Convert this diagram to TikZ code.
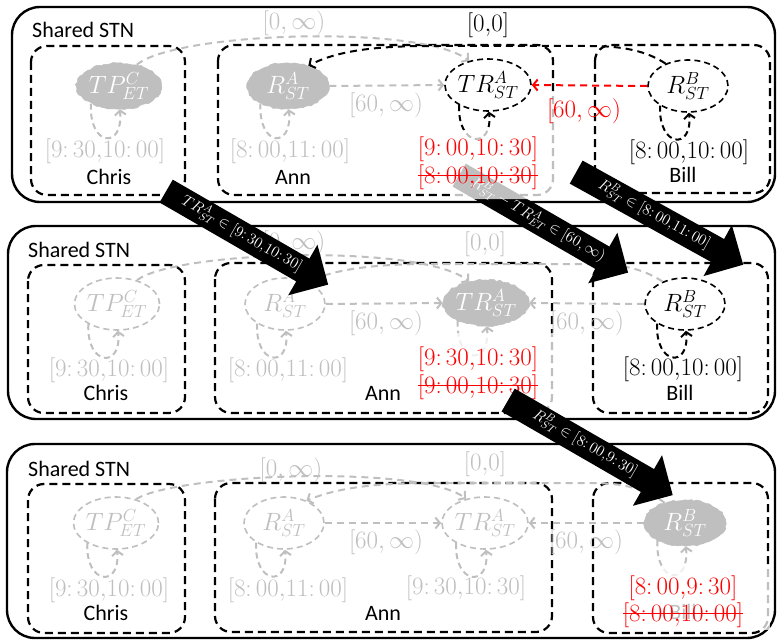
\RequirePackage{fix-cm}
\documentclass[tikz,border=0pt]{standalone}
\usepackage{fontspec}
\newfontfamily\calib{Carlito}
\usetikzlibrary{shapes.geometric,shapes.arrows,arrows.meta,decorations.pathmorphing}
\definecolor{stngray}{RGB}{191,191,191}
\definecolor{stnred}{RGB}{255,0,0}
\begin{document}
\pgfmathsetseed{7}
\begin{tikzpicture}[x=1pt,y=-1pt,
  panel/.style={line width=2.4pt, rounded corners=28pt},
  agentbox/.style={line width=2.2pt, dash pattern=on 8pt off 5pt, rounded corners=16pt},
  stnedge/.style={line width=2pt, dash pattern=on 7pt off 5pt, -{Straight Barb[length=4.5pt,width=11pt]}},
  selfloop/.style={stnedge, dash pattern=on 6pt off 4pt},
  evt/.style={ellipse, line width=1.6pt, dash pattern=on 6pt off 4pt, fill=white,
    minimum width=80pt, minimum height=52pt, inner sep=0pt, font=\fontsize{25}{25}\selectfont},
  blob/.style={ellipse, fill=stngray, draw=stngray, line width=0.6pt, text=white,
    minimum width=82pt, minimum height=46pt, inner sep=0pt, font=\fontsize{25}{25}\selectfont,
    decorate, decoration={random steps, segment length=3pt, amplitude=0.9pt}},
  ival/.style={inner sep=0pt, font=\fontsize{25}{25}\selectfont},
  agent/.style={inner sep=0pt, font=\calib\fontsize{22}{22}\selectfont},
  strike/.style={stnred, line width=1.5pt},
  veil/.style={fill=white, fill opacity=0.75},
  bigarrow/.style={single arrow, fill=black, text=white, single arrow head extend=16pt,
    text height=11pt, text depth=4pt, inner ysep=5.5pt, inner xsep=2pt,
    font=\fontsize{15.5}{15.5}\selectfont, anchor=tail}
]
\useasboundingbox (0,0) rectangle (777,642);

% ---------------- first STN ----------------
\draw[panel] (12,7) rectangle (775,202);
\node[agent, anchor=west] (stn1) at (32,30) {Shared STN};
\draw[agentbox] (31,46) rectangle (185,195);
\draw[agentbox] (218,45) rectangle (553,195);
\draw[agentbox] (595,45) rectangle (770,193);

\node[blob] (tp1) at (119,86) {$TP^{C}_{ET}$};
\node[blob] (ra1) at (288,86) {$R^{A}_{ST}$};
\node[evt, draw=black] (tr1) at (488,85) {$TR^{A}_{ST}$};
\node[evt, draw=black] (rb1) at (688,86) {$R^{B}_{ST}$};

\draw[stnedge, stngray] (tp1.50) .. controls (175,32) and (420,24) .. (tr1.128);
\draw[stnedge, stngray] (ra1.east) -- (tr1.west);
\draw[stnedge] (rb1.135) .. controls (645,50) and (620,46) .. (590,46) -- (430,46)
  .. controls (370,46) and (335,52) .. (ra1.45);
\draw[stnedge, stnred] (rb1.west) -- (tr1.east);

\draw[selfloop, stngray] (tp1.212) .. controls +(-2,44) and +(4,40) .. (tp1.-88);
\draw[selfloop, stngray] (ra1.212) .. controls +(-2,44) and +(4,40) .. (ra1.-88);
\draw[selfloop] (tr1.215) .. controls +(-2,42) and +(4,38) .. (tr1.-88);
\draw[selfloop] (rb1.215) .. controls +(-2,42) and +(4,38) .. (rb1.-88);

\node[ival, text=stngray] (l01) at (294,23) {$[0,\infty)$};
\node[ival] (l001) at (488,25) {$[0{,}0]$};
\node[ival, text=stngray] (l601) at (386,105) {$[60,\infty)$};
\node[ival, text=stngray] (tpl1) at (105,151) {$[9{:}\,30{,}10{:}\,00]$};
\node[ival, text=stngray] (ral1) at (290,151) {$[8{:}\,00{,}11{:}\,00]$};
\node[ival] (rbl1) at (689,152) {$[8{:}\,00{,}10{:}\,00]$};
\node[agent] (chris1) at (109,177) {Chris};
\node[agent] (ann1) at (293,177) {Ann};
\node[agent] (bill1) at (683,175) {Bill};

% ---------------- second STN ----------------
\draw[panel] (8,226) rectangle (775,419);
\node[agent, anchor=west] (stn2) at (28,250) {Shared STN};
\draw[agentbox] (28,265) rectangle (185,413);
\draw[agentbox] (215,263) rectangle (552,413);
\draw[agentbox] (593,263) rectangle (768,413);

\node[evt, draw=stngray, text=stngray] (tp2) at (117,304) {$TP^{C}_{ET}$};
\node[evt, draw=stngray, text=stngray] (ra2) at (285,304) {$R^{A}_{ST}$};
\node[blob] (tr2) at (486,303) {$TR^{A}_{ST}$};
\node[evt, draw=black] (rb2) at (685,304) {$R^{B}_{ST}$};

\draw[stnedge, stngray] (tp2.50) .. controls (175,251) and (420,243) .. (tr2.128);
\draw[stnedge, stngray] (ra2.east) -- (tr2.west);
\draw[stnedge, stngray] (rb2.135) .. controls (642,268) and (620,264) .. (590,264) -- (430,264)
  .. controls (370,264) and (335,270) .. (ra2.45);
\draw[stnedge, stngray] (rb2.west) -- (tr2.east);

\draw[selfloop, stngray] (tp2.215) .. controls +(-2,42) and +(4,38) .. (tp2.-88);
\draw[selfloop, stngray] (ra2.215) .. controls +(-2,42) and +(4,38) .. (ra2.-88);
\draw[selfloop, stngray] (tr2.212) .. controls +(-2,44) and +(4,40) .. (tr2.-88);
\draw[selfloop] (rb2.215) .. controls +(-2,42) and +(4,38) .. (rb2.-88);

\node[ival, text=stngray] (l02) at (294,243) {$[0,\infty)$};
\node[ival, text=stngray] (l002) at (485,244) {$[0{,}0]$};
\node[ival, text=stngray] (l602) at (386,323) {$[60,\infty)$};
\node[ival, text=stngray] (l60r2) at (587,323) {$[60,\infty)$};
\node[ival, text=stngray] (tpl2) at (109,370) {$[9{:}\,30{,}10{:}\,00]$};
\node[ival, text=stngray] (ral2) at (288,370) {$[8{:}\,00{,}11{:}\,00]$};
\node[ival] (rbl2) at (683,369) {$[8{:}\,00{,}10{:}\,00]$};
\node[agent] (chris2) at (106,393) {Chris};
\node[agent] (ann2) at (383,393) {Ann};
\node[agent] (bill2) at (680,393) {Bill};

% ---------------- third STN ----------------
\draw[panel] (7,444) rectangle (775,638);
\node[agent, anchor=west] (stn3) at (28,469) {Shared STN};
\draw[agentbox] (28,484) rectangle (185,633);
\draw[agentbox] (215,483) rectangle (552,632);
\draw[agentbox] (593,483) rectangle (768,633);

\node[evt, draw=stngray, text=stngray] (tp3) at (116,523) {$TP^{C}_{ET}$};
\node[evt, draw=stngray, text=stngray] (ra3) at (284,523) {$R^{A}_{ST}$};
\node[evt, draw=stngray, text=stngray] (tr3) at (485,523) {$TR^{A}_{ST}$};
\node[blob] (rb3) at (685,523) {$R^{B}_{ST}$};

\draw[stnedge, stngray] (tp3.50) .. controls (175,474) and (420,464) .. (tr3.128);
\draw[stnedge, stngray] (ra3.east) -- (tr3.west);
\draw[stnedge, stngray] (rb3.135) .. controls (642,487) and (620,483) .. (590,483) -- (430,483)
  .. controls (370,483) and (335,489) .. (ra3.45);
\draw[stnedge, stngray] (rb3.west) -- (tr3.east);

\draw[selfloop, stngray] (tp3.215) .. controls +(-2,42) and +(4,38) .. (tp3.-88);
\draw[selfloop, stngray] (ra3.215) .. controls +(-2,42) and +(4,38) .. (ra3.-88);
\draw[selfloop, stngray] (tr3.215) .. controls +(-2,42) and +(4,38) .. (tr3.-88);
\draw[selfloop, stngray] (rb3.212) .. controls +(-2,44) and +(4,40) .. (rb3.-88);

\node[ival, text=stngray] (l03) at (291,470) {$[0,\infty)$};
\node[ival, text=stngray] (l003) at (485,464) {$[0{,}0]$};
\node[ival, text=stngray] (l603) at (386,542) {$[60,\infty)$};
\node[ival, text=stngray] (l60r3) at (586,542) {$[60,\infty)$};
\node[ival, text=stngray] (tpl3) at (109,590) {$[9{:}\,30{,}10{:}\,00]$};
\node[ival, text=stngray] (ral3) at (288,590) {$[8{:}\,00{,}11{:}\,00]$};
\node[ival, text=stngray] (trl3) at (466,588) {$[9{:}\,30{,}10{:}\,30]$};
\node[agent] (chris3) at (106,613) {Chris};
\node[agent] (ann3) at (383,613) {Ann};
\node[agent] (bill3) at (683,612) {Bill};

% ---------------- propagation arrow drawn under the first veil ----------------
\node[bigarrow, minimum height=195pt, rotate=-30] (push2) at (459,175)
  {$R^{B}_{ST}-TR^{A}_{ET}\in[60,\infty)$};

% ---------------- veils behind the updated bounds ----------------
\fill[veil] (452,130) -- (538,130) -- (538,92) -- (570,92) -- (570,199) -- (452,199) -- cycle;
\fill[veil] (455,333) rectangle (568,408);
\fill[veil] (612,567) rectangle (770,630);

% ---------------- updated bounds ----------------
\node[ival, text=stnred] (l60r1) at (584,111) {$[60,\infty)$};
\node[ival, text=stnred] (trn1) at (478,149) {$[9{:}\,00{,}10{:}\,30]$};
\node[ival, text=stnred] (tro1) at (478,177) {$[8{:}\,00{,}10{:}\,30]$};
\draw[strike] ([yshift=1.5pt]tro1.west) -- ([yshift=1.5pt]tro1.east);
\node[ival, text=stnred] (trn2) at (478,359) {$[9{:}\,30{,}10{:}\,30]$};
\node[ival, text=stnred] (tro2) at (478,387) {$[9{:}\,00{,}10{:}\,30]$};
\draw[strike] ([yshift=1.5pt]tro2.west) -- ([yshift=1.5pt]tro2.east);
\node[ival, text=stnred] (rbn3) at (683,588) {$[8{:}\,00{,}9{:}\,30]$};
\node[ival, text=stnred] (rbo3) at (683,615) {$[8{:}\,00{,}10{:}\,00]$};
\draw[strike] ([yshift=1.5pt]rbo3.west) -- ([yshift=1.5pt]rbo3.east);

% ---------------- remaining propagation arrows ----------------
\node[bigarrow, minimum height=187pt, rotate=-30] (push1) at (166,191)
  {$TR^{A}_{ST}\in[9{:}\,30{,}10{:}\,30]$};
\node[bigarrow, minimum height=191pt, rotate=-29] (push3) at (576,172)
  {$R^{B}_{ST}\in[8{:}\,00{,}11{:}\,00]$};
\node[bigarrow, minimum height=190pt, rotate=-30] (push4) at (508,400)
  {$R^{B}_{ST}\in[8{:}\,00{,}9{:}\,30]$};
\end{tikzpicture}
\end{document}
